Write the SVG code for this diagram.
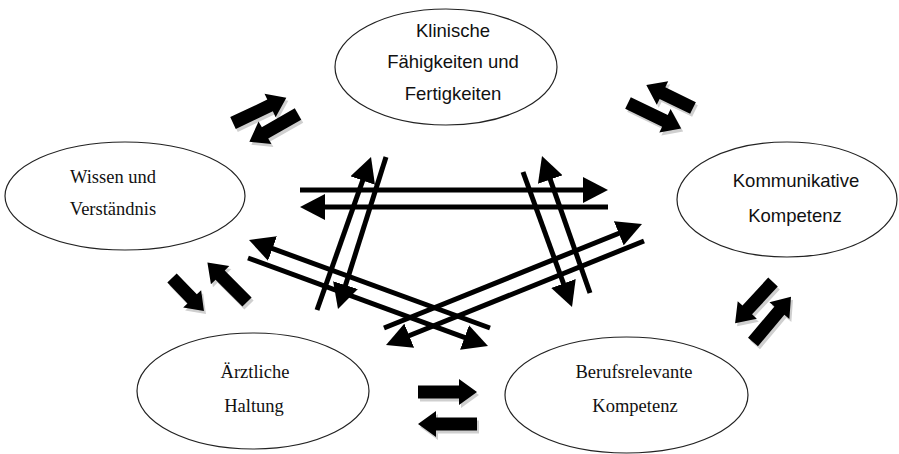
<svg xmlns="http://www.w3.org/2000/svg" xmlns:xlink="http://www.w3.org/1999/xlink" width="899" height="454" viewBox="0 0 899 454">
<style>
.node ellipse { fill: #fff; stroke: #222; stroke-width: 1.2; }
.sans { font-family: "Liberation Sans", Arial, sans-serif; font-size: 18.5px; text-anchor: middle; fill: #111; }
.serif { font-family: "Liberation Serif", "Times New Roman", serif; font-size: 18.5px; text-anchor: middle; fill: #111; }
.ln { stroke: #000; stroke-width: 5; fill: none; marker-end: url(#ah); }
.blk { fill: #000; }
.shd { fill: #cfcfcf; }
</style>
<defs>
<marker id="ah" markerUnits="userSpaceOnUse" viewBox="0 0 25 26" markerWidth="25" markerHeight="26" refX="15" refY="13" orient="auto">
<path d="M0,0 L25,13 L0,26 z" fill="#000"/>
</marker>
<path id="b59" d="M0,-6.5 H41 V-13 L59,0 L41,13 V6.5 H0 Z"/>
<path id="b56" d="M0,-6.5 H38 V-13 L56,0 L38,13 V6.5 H0 Z"/>
<path id="b52" d="M0,-6.5 H34 V-13 L52,0 L34,13 V6.5 H0 Z"/>
<path id="b46" d="M0,-6.5 H29 V-12.5 L46,0 L29,12.5 V6.5 H0 Z"/>
</defs>
<rect width="899" height="454" fill="#fff"/>

<g id="node-klinisch" class="node">
<ellipse cx="446" cy="67" rx="111" ry="58"/>
<text class="sans" x="453" y="37">Klinische</text>
<text class="sans" x="453" y="68">Fähigkeiten und</text>
<text class="sans" x="453" y="100">Fertigkeiten</text>
</g>
<g id="node-wissen" class="node">
<ellipse cx="125" cy="196" rx="120" ry="54"/>
<text class="serif" x="113" y="183">Wissen und</text>
<text class="serif" x="113" y="215">Verständnis</text>
</g>
<g id="node-kommunikativ" class="node">
<ellipse cx="787" cy="199.5" rx="110" ry="57.5"/>
<text class="sans" x="796" y="187">Kommunikative</text>
<text class="sans" x="795" y="222">Kompetenz</text>
</g>
<g id="node-haltung" class="node">
<ellipse cx="253" cy="391" rx="116" ry="58"/>
<text class="serif" x="255" y="378">Ärztliche</text>
<text class="serif" x="254" y="412">Haltung</text>
</g>
<g id="node-beruf" class="node">
<ellipse cx="626.5" cy="395" rx="121.5" ry="58"/>
<text class="serif" x="634" y="378">Berufsrelevante</text>
<text class="serif" x="635" y="412">Kompetenz</text>
</g>

<g id="connectors">
<g id="block-arrows">
<g transform="translate(2,3)" class="shd">
<use xlink:href="#b59" transform="translate(233,123) rotate(-25.3)"/>
<use xlink:href="#b56" transform="translate(298,114) rotate(150.3)"/>
<use xlink:href="#b52" transform="translate(693,108) rotate(-153.9)"/>
<use xlink:href="#b59" transform="translate(628,103) rotate(25.7)"/>
<use xlink:href="#b46" transform="translate(172,278) rotate(46)"/>
<use xlink:href="#b56" transform="translate(247,302) rotate(-135)"/>
<use xlink:href="#b56" transform="translate(773,282) rotate(132.6)"/>
<use xlink:href="#b59" transform="translate(753,342) rotate(-49.9)"/>
<use xlink:href="#b59" transform="translate(418,392)"/>
<use xlink:href="#b59" transform="translate(477,424) rotate(180)"/>
</g>
<g class="blk">
<use xlink:href="#b59" transform="translate(233,123) rotate(-25.3)"/>
<use xlink:href="#b56" transform="translate(298,114) rotate(150.3)"/>
<use xlink:href="#b52" transform="translate(693,108) rotate(-153.9)"/>
<use xlink:href="#b59" transform="translate(628,103) rotate(25.7)"/>
<use xlink:href="#b46" transform="translate(172,278) rotate(46)"/>
<use xlink:href="#b56" transform="translate(247,302) rotate(-135)"/>
<use xlink:href="#b56" transform="translate(773,282) rotate(132.6)"/>
<use xlink:href="#b59" transform="translate(753,342) rotate(-49.9)"/>
<use xlink:href="#b59" transform="translate(418,392)"/>
<use xlink:href="#b59" transform="translate(477,424) rotate(180)"/>
</g>
</g>
<g id="cross-arrows">
<line class="ln" x1="300" y1="190" x2="598" y2="190"/>
<line class="ln" x1="608" y1="207" x2="310" y2="207"/>
<line class="ln" x1="317" y1="310" x2="367.7" y2="166.4"/>
<line class="ln" x1="386" y1="157" x2="341" y2="299.5"/>
<line class="ln" x1="590" y1="293" x2="545.3" y2="165.4"/>
<line class="ln" x1="523" y1="172" x2="568.6" y2="297.6"/>
<line class="ln" x1="490" y1="328" x2="258.4" y2="243.4"/>
<line class="ln" x1="248" y1="258" x2="478.6" y2="342.6"/>
<line class="ln" x1="384" y1="328" x2="632.7" y2="227.7"/>
<line class="ln" x1="644" y1="241" x2="395.3" y2="341.3"/>
</g>
</g>
</svg>
